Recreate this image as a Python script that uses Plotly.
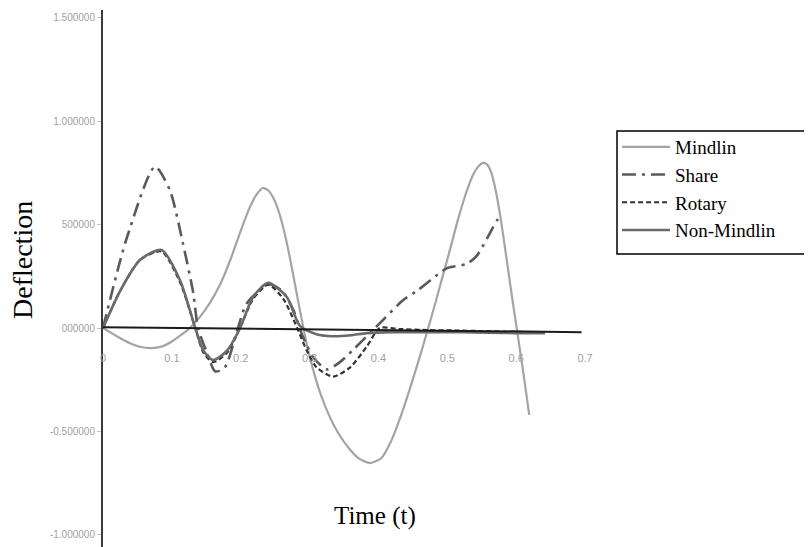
import plotly.graph_objects as go

# ---------------- data ----------------
mindlin_t = [0, 0.02, 0.04, 0.055, 0.07, 0.085, 0.1, 0.113, 0.126, 0.14, 0.155,
             0.17, 0.185, 0.2, 0.212, 0.222, 0.232, 0.24, 0.248, 0.256, 0.264,
             0.272, 0.28, 0.288, 0.296, 0.305, 0.316, 0.328, 0.342, 0.358, 0.372,
             0.388, 0.404, 0.418, 0.431, 0.445, 0.46, 0.475, 0.49, 0.504, 0.516,
             0.528, 0.538, 0.546, 0.552, 0.558, 0.564, 0.57, 0.577, 0.585, 0.594,
             0.603, 0.611, 0.619]
mindlin_y = [0, -0.04, -0.075, -0.092, -0.097, -0.09, -0.065, -0.035, 0.0, 0.05, 0.12,
             0.21, 0.33, 0.47, 0.575, 0.64, 0.677, 0.665, 0.625, 0.555, 0.455,
             0.33, 0.19, 0.05, -0.08, -0.2, -0.32, -0.42, -0.51, -0.585, -0.632,
             -0.653, -0.63, -0.55, -0.44, -0.30, -0.14, 0.03, 0.21, 0.38, 0.53,
             0.66, 0.745, 0.785, 0.798, 0.79, 0.75, 0.67, 0.54, 0.36, 0.15,
             -0.05, -0.23, -0.42]

share_t = [0, 0.035, 0.0755, 0.097, 0.116, 0.131, 0.138, 0.151, 0.163, 0.177, 0.195,
           0.209, 0.24, 0.26, 0.276, 0.29, 0.305, 0.325, 0.344, 0.363, 0.377, 0.392,
           0.407, 0.436, 0.456, 0.489, 0.5, 0.528, 0.543, 0.572, 0.575]
share_y = [0, 0.44, 0.78, 0.667, 0.41, 0.17, 0.0, -0.12, -0.21, -0.19, -0.01,
           0.12, 0.21, 0.18, 0.09, -0.04, -0.14, -0.20, -0.165, -0.106, -0.06, -0.01,
           0.04, 0.135, 0.18, 0.266, 0.29, 0.31, 0.35, 0.52, 0.53]

rotary_t = [0, 0.025, 0.054, 0.085, 0.112, 0.134, 0.146, 0.16, 0.18, 0.199, 0.218,
            0.24, 0.262, 0.282, 0.296, 0.31, 0.334, 0.359, 0.383, 0.402, 0.43,
            0.47, 0.51, 0.55, 0.59, 0.62, 0.642]
rotary_y = [0, 0.18, 0.33, 0.37, 0.22, 0.0, -0.12, -0.165, -0.12, 0.0, 0.14,
            0.21, 0.14, 0.0, -0.11, -0.19, -0.235, -0.19, -0.09, 0.0, -0.005,
            -0.01, -0.012, -0.015, -0.018, -0.02, -0.02]

nonmindlin_t = [0, 0.025, 0.054, 0.085, 0.112, 0.134, 0.146, 0.16, 0.18, 0.199, 0.218,
                0.24, 0.267, 0.286, 0.31, 0.334, 0.36, 0.383, 0.42, 0.46, 0.5,
                0.54, 0.58, 0.62, 0.642]
nonmindlin_y = [0, 0.18, 0.33, 0.377, 0.23, 0.0, -0.11, -0.155, -0.11, 0.0, 0.15,
                0.218, 0.15, 0.01, -0.03, -0.04, -0.035, -0.025, -0.02, -0.02, -0.02,
                -0.022, -0.024, -0.025, -0.025]

x_tick_vals = [0, 0.1, 0.2, 0.3, 0.4, 0.5, 0.6, 0.7]
x_tick_text = ["0", "0.1", "0.2", "0.3", "0.4", "0.5", "0.6", "0.7"]
y_tick_vals = [1.5, 1.0, 0.5, 0.0, -0.5, -1.0]
y_tick_text = ["1.500000", "1.000000", "500000", "000000", "-0.500000", "-1.000000"]

# ---------------- figure ----------------
# the page body adds an 8px margin, so the figure is built 8px smaller and
# every page position below is converted into figure coordinates.
PAGE_W, PAGE_H = 812, 547
OFF = 8
W, H = PAGE_W - OFF, PAGE_H - OFF
ML, MT = 103 - OFF, 10 - OFF
MR = W - (620 - OFF)
MB = 0
X_RANGE = [0, 0.7508]
Y_RANGE = [-1.059, 1.5377]
PW, PH = W - ML - MR, H - MT - MB


def px_x(p):  # page x -> paper fraction
    return (p - OFF - ML) / PW


def px_y(p):  # page y -> paper fraction
    return 1 - (p - OFF - MT) / PH


fig = go.Figure()

fig.add_trace(go.Scatter(x=mindlin_t, y=mindlin_y, mode="lines", name="Mindlin",
                         line=dict(color="#a4a4a4", width=2.2, shape="spline", smoothing=0.6)))
fig.add_trace(go.Scatter(x=share_t, y=share_y, mode="lines", name="Share",
                         line=dict(color="#5a5a5a", width=2.6, dash="14px,6px,3px,6px",
                                   shape="spline", smoothing=0.7)))
fig.add_trace(go.Scatter(x=rotary_t, y=rotary_y, mode="lines", name="Rotary",
                         line=dict(color="#333333", width=2.2, dash="5px,3px",
                                   shape="spline", smoothing=0.7)))
fig.add_trace(go.Scatter(x=nonmindlin_t, y=nonmindlin_y, mode="lines", name="Non-Mindlin",
                         line=dict(color="#6a6a6a", width=2.6, shape="spline", smoothing=0.7)))

# horizontal time axis line drawn through the data origin
fig.add_shape(type="line", xref="x", yref="y", x0=0, y0=0.004, x1=0.695, y1=-0.02,
              line=dict(color="#1a1a1a", width=2))
# legend frame: open on the right, where it runs off the edge of the picture
lx0, lx1 = px_x(617), px_x(811)
ly_top, ly_bot = px_y(131), px_y(254)
fig.add_shape(type="path", xref="paper", yref="paper",
              path=f"M {lx1} {ly_top} L {lx0} {ly_top} L {lx0} {ly_bot} L {lx1} {ly_bot}",
              line=dict(color="black", width=1.5))

y_zero_frac = (0 - Y_RANGE[0]) / (Y_RANGE[1] - Y_RANGE[0])

fig.update_layout(
    width=W, height=H,
    margin=dict(l=ML, r=MR, t=MT, b=MB, autoexpand=False),
    paper_bgcolor="white", plot_bgcolor="white",
    font=dict(family="Liberation Serif", color="black"),
    xaxis=dict(range=X_RANGE, tickvals=x_tick_vals, ticktext=x_tick_text,
               showgrid=False, zeroline=False, showline=False,
               anchor="free", position=y_zero_frac, ticks="",
               ticklabelstandoff=22,
               tickfont=dict(family="Liberation Sans", size=11, color="#a0a0a0")),
    yaxis=dict(range=Y_RANGE, tickvals=y_tick_vals, ticktext=y_tick_text,
               showgrid=False, zeroline=False, showline=True,
               linecolor="#3a3a3a", linewidth=2, ticks="outside", ticklen=4,
               tickcolor="#c0c0c0", tickwidth=1,
               tickfont=dict(family="Liberation Sans", size=10, color="#a0a0a0")),
    legend=dict(xref="container", yref="container",
                x=(617 - OFF) / W, y=1 - (128 - OFF) / H,
                xanchor="left", yanchor="top", bgcolor="rgba(0,0,0,0)",
                borderwidth=0,
                font=dict(family="Liberation Serif", size=19, color="black"),
                itemwidth=48, tracegroupgap=0),
    annotations=[
        dict(text="Deflection", xref="paper", yref="paper",
             x=px_x(22), y=px_y(260),
             xanchor="center", yanchor="middle",
             showarrow=False, textangle=-90,
             font=dict(family="Liberation Serif", size=28, color="black")),
        dict(text="Time (t)", xref="paper", yref="paper",
             x=px_x(375), y=px_y(516),
             xanchor="center", yanchor="middle",
             showarrow=False,
             font=dict(family="Liberation Serif", size=25, color="black")),
    ],
)

fig.write_html("out.html")
